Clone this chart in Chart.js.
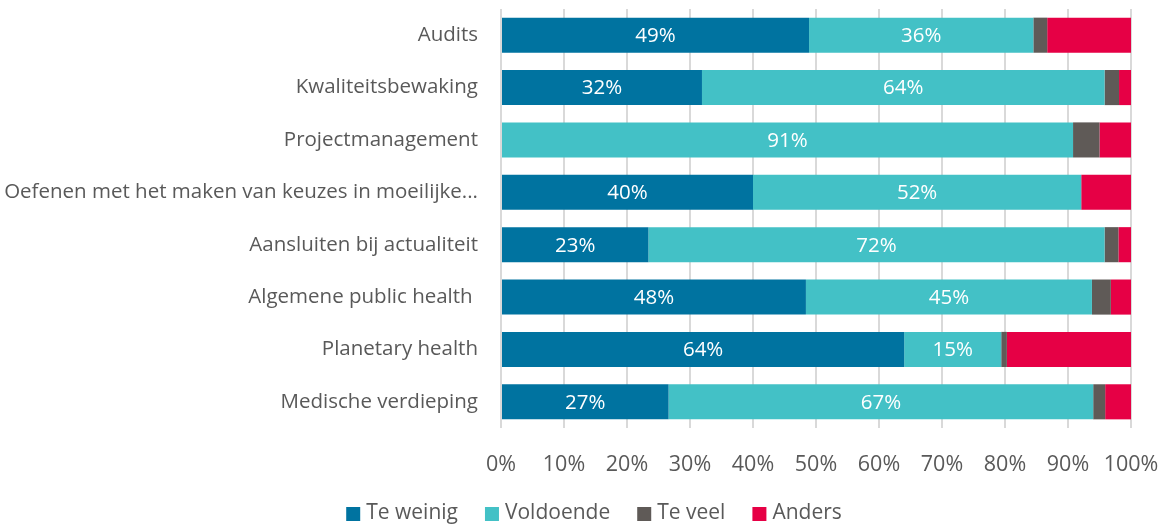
<!DOCTYPE html>
<html>
<head>
<meta charset="utf-8">
<script src="https://cdn.jsdelivr.net/npm/chart.js@4.4.1/dist/chart.umd.min.js"></script>
<style>
  html, body { margin: 0; padding: 0; background: #ffffff; }
  #wrap { width: 1164px; height: 526px; position: relative; }
</style>
</head>
<body>
<div id="wrap"><canvas id="c" width="1164" height="526"></canvas></div>
<script>
const categories = [
  "Audits",
  "Kwaliteitsbewaking",
  "Projectmanagement",
  "Oefenen met het maken van keuzes in moeilijke...",
  "Aansluiten bij actualiteit",
  "Algemene public health ",
  "Planetary health",
  "Medische verdieping"
];
const teWeinig  = [48.9, 31.9, 0,    40.0, 23.4, 48.4, 64.0, 26.6];
const voldoende = [35.6, 63.9, 90.8, 52.1, 72.4, 45.4, 15.4, 67.4];
const teVeel    = [2.2,  2.3,  4.2,  0,    2.2,  3.0,  0.9,  1.9];
const anders    = [13.3, 1.9,  5.0,  7.9,  2.0,  3.2,  19.7, 4.1];
const xTicks = ["0%","10%","20%","30%","40%","50%","60%","70%","80%","90%","100%"];

const FONT = "'Open Sans', sans-serif";
const GREY = "#595959";

const labelPlugin = {
  id: 'segLabels',
  afterDatasetsDraw(chart) {
    const ctx = chart.ctx;
    ctx.save();
    ctx.font = "20.5px " + FONT;
    ctx.fillStyle = "#ffffff";
    ctx.textAlign = "center";
    ctx.textBaseline = "middle";
    [0, 1].forEach(di => {
      const meta = chart.getDatasetMeta(di);
      const data = chart.data.datasets[di].data;
      meta.data.forEach((el, i) => {
        const v = data[i];
        if (!v || v < 5) return;
        const cx = (el.x + el.base) / 2;
        ctx.fillText(Math.round(v) + "%", cx, el.y + 1);
      });
    });
    ctx.restore();
  }
};

const legendPlugin = {
  id: 'customLegend',
  afterDraw(chart) {
    const ctx = chart.ctx;
    const box = 14, gap = 6, spacing = 27, centerX = 594, centerY = 514;
    ctx.save();
    ctx.font = "21px " + FONT;
    ctx.textBaseline = "middle";
    ctx.textAlign = "left";
    const items = chart.data.datasets.map(ds => ({
      label: ds.label, color: ds.backgroundColor, w: ctx.measureText(ds.label).width
    }));
    let total = 0;
    items.forEach((it, i) => { total += box + gap + it.w + (i < items.length - 1 ? spacing : 0); });
    let x = centerX - total / 2;
    items.forEach(it => {
      ctx.fillStyle = it.color;
      ctx.fillRect(x, centerY - box / 2, box, box);
      ctx.fillStyle = GREY;
      ctx.fillText(it.label, x + box + gap, centerY - 1);
      x += box + gap + it.w + spacing;
    });
    ctx.restore();
  }
};

new Chart(document.getElementById('c'), {
  type: 'bar',
  data: {
    labels: categories,
    datasets: [
      { label: "Te weinig", data: teWeinig,  backgroundColor: "#0073A0" },
      { label: "Voldoende", data: voldoende, backgroundColor: "#43C1C6" },
      { label: "Te veel",   data: teVeel,    backgroundColor: "#5F5A57" },
      { label: "Anders",    data: anders,    backgroundColor: "#E60045" }
    ]
  },
  options: {
    indexAxis: 'y',
    responsive: false,
    animation: false,
    devicePixelRatio: 1,
    datasets: { bar: { barPercentage: 0.67, categoryPercentage: 1.0, borderWidth: 0 } },
    layout: { padding: { top: 9, right: 33, left: 0, bottom: 34 } },
    scales: {
      x: {
        stacked: true,
        min: 0, max: 100,
        ticks: {
          stepSize: 10,
          color: GREY,
          font: { family: FONT, size: 21.5 },
          padding: 24,
          callback: (v, i) => xTicks[i]
        },
        grid: { color: "#d9d9d9", lineWidth: 2, drawTicks: false },
        border: { display: false },
        afterFit(scale) { scale.height = 64; scale.paddingLeft = 0; scale.paddingRight = 0; }
      },
      y: {
        stacked: true,
        ticks: {
          color: GREY,
          font: { family: FONT, size: 20.5 },
          padding: 15
        },
        grid: { display: false },
        border: { display: false },
        afterFit(scale) { scale.width = 501; scale.paddingTop = 0; scale.paddingBottom = 0; }
      }
    },
    plugins: {
      legend: { display: false },
      tooltip: { enabled: false }
    }
  },
  plugins: [labelPlugin, legendPlugin]
});
</script>
</body>
</html>
